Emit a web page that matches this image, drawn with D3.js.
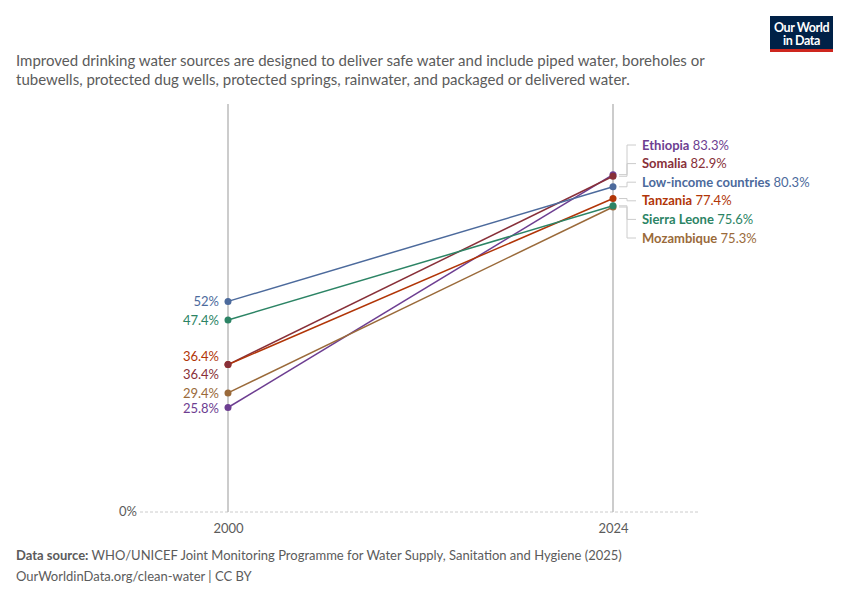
<!DOCTYPE html>
<html>
<head>
<meta charset="utf-8">
<script src="https://cdn.jsdelivr.net/npm/d3@7"></script>
<style>
  body { margin: 0; background: #fff; }
  text { font-family: Lato, "Noto Sans", sans-serif; }
</style>
</head>
<body>
<script>
// data
const years = [2000, 2024];
const entities = ["Ethiopia", "Somalia", "Low-income countries", "Tanzania", "Sierra Leone", "Mozambique"];
const start = [25.8, 36.4, 52, 36.4, 47.4, 29.4];
const end = [83.3, 82.9, 80.3, 77.4, 75.6, 75.3];
const colors = ["#6d3e91", "#883039", "#4c6a9c", "#b13507", "#2c8465", "#9a6a3a"];

const w = 850, h = 600;
const svg = d3.select("body").append("svg")
    .attr("width", w)
    .attr("height", h);

// subtitle
const sub = svg.append("text")
    .attr("x", 16)
    .attr("y", 66)
    .attr("fill", "#5b5b5b")
    .style("font-size", "15px");
sub.append("tspan").attr("x", 16).attr("dy", 0)
    .text("Improved drinking water sources are designed to deliver safe water and include piped water, boreholes or");
sub.append("tspan").attr("x", 16).attr("dy", 19)
    .text("tubewells, protected dug wells, protected springs, rainwater, and packaged or delivered water.");

// logo
const logo = svg.append("g").attr("transform", "translate(770,16)");
logo.append("rect").attr("width", 63).attr("height", 36).attr("fill", "#002147");
logo.append("rect").attr("y", 33).attr("width", 63).attr("height", 3).attr("fill", "#ce261e");
logo.append("text").attr("x", 31.5).attr("y", 15.5).attr("text-anchor", "middle")
    .attr("fill", "#fff").style("font-size", "12.5px").style("font-weight", "bold")
    .style("letter-spacing", "-0.4px").text("Our World");
logo.append("text").attr("x", 31.5).attr("y", 29).attr("text-anchor", "middle")
    .attr("fill", "#fff").style("font-size", "12.5px").style("font-weight", "bold")
    .style("letter-spacing", "-0.4px").text("in Data");

// scales
const x = d3.scalePoint().domain(years).range([228, 613]);
const y = d3.scaleLinear().domain([0, 100]).range([512, 107]);

// zero gridline
svg.append("line")
    .attr("x1", 140).attr("x2", 698)
    .attr("y1", y(0)).attr("y2", y(0))
    .attr("stroke", "#ccc")
    .attr("stroke-dasharray", "3,2");
svg.append("text")
    .attr("x", 137).attr("y", y(0) + 4)
    .attr("text-anchor", "end")
    .attr("fill", "#5b5b5b")
    .style("font-size", "13px")
    .text("0%");

// year verticals
years.forEach(function (yr) {
    svg.append("line")
        .attr("x1", x(yr)).attr("x2", x(yr))
        .attr("y1", 104).attr("y2", y(0))
        .attr("stroke", "#bbb")
        .attr("stroke-width", 1.5);
});

// x axis labels
const xAxis = svg.append("g")
    .attr("transform", "translate(0," + (y(0) + 4) + ")")
    .call(d3.axisBottom(x).tickSize(0).tickPadding(8));
xAxis.select(".domain").remove();
xAxis.selectAll("text")
    .attr("fill", "#5b5b5b")
    .style("font-size", "13px")
    .style("font-family", "Lato, sans-serif");

// slope lines
entities.forEach(function (name, i) {
    svg.append("line")
        .attr("x1", x(years[0])).attr("y1", y(start[i]))
        .attr("x2", x(years[1])).attr("y2", y(end[i]))
        .attr("stroke", colors[i])
        .attr("stroke-width", 1.5);
});

// dots, drawn bottom-up so top series sit on top
const order = [5, 4, 3, 2, 0, 1];
order.forEach(function (i) {
    svg.append("circle").attr("cx", x(years[0])).attr("cy", y(start[i]))
        .attr("r", 3.5).attr("fill", colors[i]);
    svg.append("circle").attr("cx", x(years[1])).attr("cy", y(end[i]))
        .attr("r", 3.5).attr("fill", colors[i]);
});

// left value labels (order top to bottom as shown)
const leftOrder = [2, 4, 3, 1, 5, 0];
const leftY = [301, 320, 356, 374, 393, 408];
leftOrder.forEach(function (i, k) {
    svg.append("text")
        .attr("x", 219)
        .attr("y", leftY[k] + 4.5)
        .attr("text-anchor", "end")
        .attr("fill", colors[i])
        .style("font-size", "13px")
        .text(start[i] + "%");
});

// right labels with connectors
const labelY = d3.range(entities.length).map(function (k) { return 145 + k * 18.6; });
entities.forEach(function (name, i) {
    const py = y(end[i]);
    const ly = labelY[i];
    svg.append("path")
        .attr("d", "M" + (x(years[1]) + 6) + "," + py + "H627V" + ly + "H636")
        .attr("fill", "none")
        .attr("stroke", "#ccc")
        .attr("stroke-width", 1);
    const t = svg.append("text")
        .attr("x", 642)
        .attr("y", ly + 4.5)
        .attr("fill", colors[i])
        .style("font-size", "13px");
    t.append("tspan").style("font-weight", "bold").text(name);
    t.append("tspan").text(" " + end[i] + "%");
});

// footer
const f1 = svg.append("text")
    .attr("x", 16).attr("y", 560)
    .attr("fill", "#5b5b5b")
    .style("font-size", "13px");
f1.append("tspan").style("font-weight", "bold").text("Data source:");
f1.append("tspan").text(" WHO/UNICEF Joint Monitoring Programme for Water Supply, Sanitation and Hygiene (2025)");
svg.append("text")
    .attr("x", 16).attr("y", 581)
    .attr("fill", "#5b5b5b")
    .style("font-size", "13px")
    .text("OurWorldinData.org/clean-water | CC BY");
</script>
</body>
</html>
